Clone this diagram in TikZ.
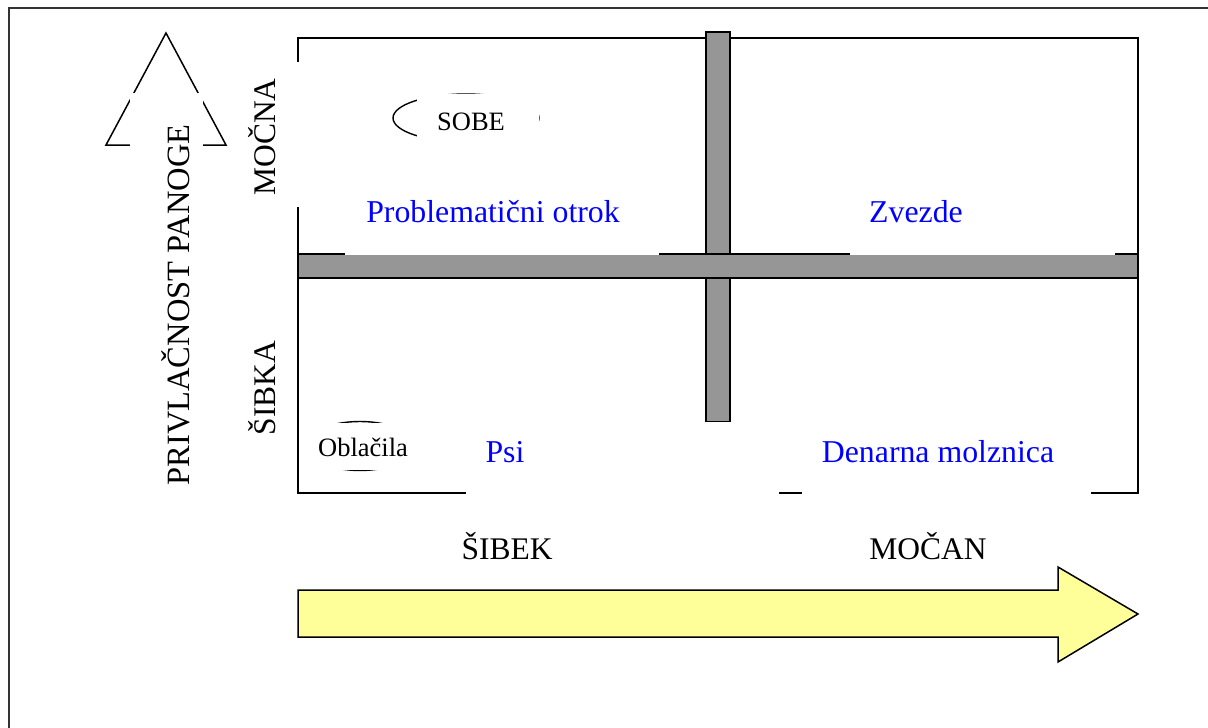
\documentclass[tikz,border=0pt]{standalone}
\usepackage{fontspec}
\setmainfont{Liberation Serif}
\definecolor{bargray}{HTML}{969696}
\definecolor{arrowyellow}{HTML}{FFFF99}
\definecolor{txtblue}{HTML}{0000FF}
\begin{document}
\begin{tikzpicture}[x=1pt,y=-1pt,
  mask/.style={fill=white,draw=none},
  quad/.style={text=txtblue,font=\fontsize{31.8}{34}\selectfont,anchor=base,inner sep=0pt},
  axislab/.style={font=\fontsize{31.5}{35}\selectfont,anchor=base,inner sep=0pt},
  small/.style={font=\fontsize{26.5}{30}\selectfont,anchor=base,inner sep=0pt},
  bar/.style={fill=bargray,draw=black,line width=1.2pt}]
\useasboundingbox (0,0) rectangle (1208,728);
% outer frame
\draw[line width=1.6pt,black!80] (9,740) -- (9,8) -- (1220,8);
% big up arrow (attractiveness)
\draw[line width=1.5pt] (132,495) -- (132,145) -- (106,145) -- (166,33) -- (226,145) -- (201,145) -- (201,495);
\fill[mask] (130,93) rectangle (203,500);
% matrix box
\draw[line width=2pt] (298,38) rectangle (1138,493);
\draw[bar] (706,32) rectangle (730,422);
\draw[bar,line width=2pt] (298,254) rectangle (1138,278);
% ellipses
\draw[line width=1.4pt] (466,118) ellipse [x radius=73, y radius=24];
\draw[line width=1.4pt] (360,446) ellipse [x radius=55, y radius=24.5];
% masks (text backgrounds)
\fill[mask] (417,94.0) rectangle (538.5,143.5);
\fill[mask] (301,423.2) rectangle (416,469.6);
\fill[mask] (240,62) rectangle (299,207);
\fill[mask] (345,185) rectangle (659,255);
\fill[mask] (850,185) rectangle (1115,255);
\fill[mask] (466,422) rectangle (779,495);
\fill[mask] (802,422) rectangle (1091,495);
% yellow arrow
\draw[fill=arrowyellow,line width=1.5pt] (298,590) -- (1058,590) -- (1058,567) -- (1138,614) -- (1058,662) -- (1058,637) -- (298,637) -- cycle;
% texts
\node[quad] (po) at (493,222) {Problematični otrok};
\node[quad] (zv) at (916,222) {Zvezde};
\node[quad] (ps) at (505,462) {Psi};
\node[quad] (dm) at (938,462) {Denarna molznica};
\node[small] (so) at (471,130) {SOBE};
\node[small] (ob) at (363,456) {Oblačila};
\node[axislab] (sb) at (507,559) {ŠIBEK};
\node[axislab] (mc) at (928,559) {MOČAN};
\node[axislab,rotate=90] (mn) at (275,137) {MOČNA};
\node[axislab,rotate=90] (sk) at (275,388) {ŠIBKA};
\node[axislab,rotate=90,font=\fontsize{32.5}{36}\selectfont] (pp) at (189,305) {PRIVLAČNOST PANOGE};
\end{tikzpicture}
\end{document}
